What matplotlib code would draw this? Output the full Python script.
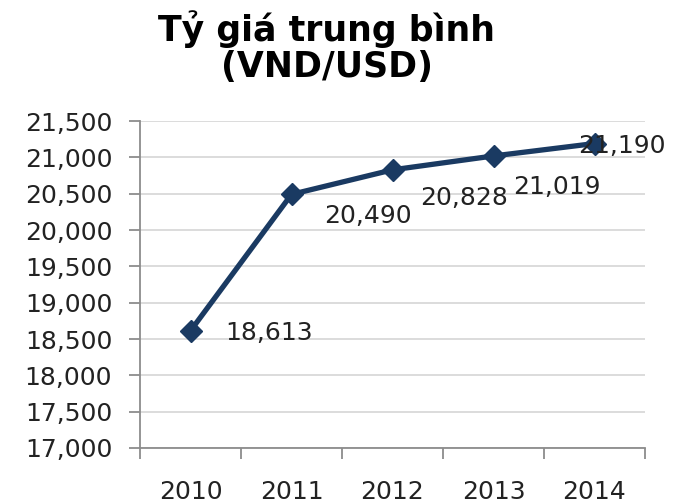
import matplotlib
matplotlib.use("Agg")
import matplotlib.pyplot as plt
from matplotlib.ticker import FuncFormatter, MultipleLocator

years = ["2010", "2011", "2012", "2013", "2014"]
rates = [18613, 20490, 20828, 21019, 21190]
y_min, y_max, y_step = 17000, 21500, 500

# label offsets (pixels) relative to each point
label_dx = [35, 33, 28, 20, -16]
label_dy = [-2, -22, -28, -31, -2]

W, H = 673, 503
fig = plt.figure(figsize=(W / 100, H / 100), dpi=100)
ax = fig.add_axes([140 / W, 1 - 448 / H, (645 - 140) / W, (448 - 121) / H])

line_color = "#1A3A62"
x = list(range(len(years)))
ax.plot(x, rates, color=line_color, lw=3.8, marker="D", markersize=11,
        markerfacecolor=line_color, markeredgecolor=line_color, zorder=3,
        solid_joinstyle="miter")

font = "DejaVu Sans"
fs = 18
for xi, v, dx, dy in zip(x, rates, label_dx, label_dy):
    ax.annotate(f"{v:,}", (xi, v), xytext=(dx, dy), textcoords="offset pixels",
                ha="left", va="center", fontsize=fs, color="#222222",
                family=font, zorder=4, annotation_clip=False)

ax.set_xlim(-0.5, len(years) - 0.5)
ax.set_ylim(y_min, y_max)
ax.yaxis.set_major_locator(MultipleLocator(y_step))
ax.yaxis.set_major_formatter(FuncFormatter(lambda v, p: f"{int(v):,}"))
ax.set_xticks([i - 0.5 for i in range(len(years) + 1)])
ax.set_xticklabels([])
ax.set_xticks(x, minor=True)
ax.set_xticklabels(years, minor=True)

ax.grid(axis="y", color="#D9D9D9", lw=1.3, zorder=0)
ax.set_axisbelow(True)
for s in ["top", "right"]:
    ax.spines[s].set_visible(False)
for s in ["left", "bottom"]:
    ax.spines[s].set_color("#8C8C8C")
    ax.spines[s].set_linewidth(1.3)

ax.tick_params(axis="y", which="major", direction="out", length=8, width=1.3,
               color="#8C8C8C", pad=12, labelsize=fs, labelcolor="#222222")
ax.tick_params(axis="x", which="major", direction="out", length=8, width=1.3,
               color="#8C8C8C")
ax.tick_params(axis="x", which="minor", length=0, pad=23, labelsize=fs,
               labelcolor="#222222")
for lbl in ax.get_yticklabels() + ax.get_xticklabels(minor=True):
    lbl.set_family(font)

fig.text(327 / W, 1 - 10 / H, "Tỷ giá trung bình\n(VND/USD)", ha="center", va="top",
         fontsize=25, fontweight="bold", family=font, color="#000000",
         linespacing=1.08)

fig.savefig("out.png", dpi=100)
